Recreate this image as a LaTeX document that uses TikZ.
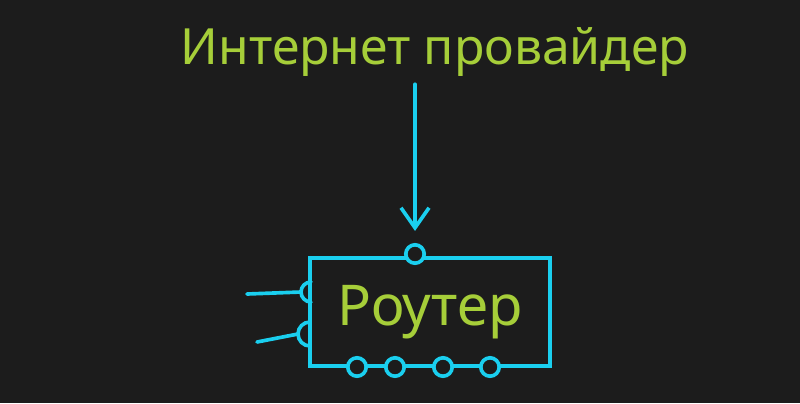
\documentclass[tikz,border=0pt]{standalone}
\usepackage{fontspec}
\setmainfont{Noto Sans}
\usetikzlibrary{arrows.meta,positioning}
\definecolor{bg}{HTML}{1C1C1C}
\definecolor{lime}{HTML}{A6CE39}
\definecolor{wirecol}{HTML}{1ACFEF}

\begin{document}
\begin{tikzpicture}[
    x=0.025cm, y=-0.025cm,
    handtext/.style={text=lime,inner sep=0pt,font=\fontsize{35.5}{40}\selectfont},
    box/.style={draw=wirecol,line width=2.6pt,minimum width=6cm,minimum height=2.7cm,inner sep=0pt},
    port/.style={draw=wirecol,line width=2.6pt,fill=bg,circle,minimum size=4.6mm,inner sep=0pt},
    wire/.style={draw=wirecol,line width=2.6pt,line cap=round},
    >={Straight Barb[length=5mm,width=7mm]}]
  \fill[bg] (0,0) rectangle (800,403);
  \useasboundingbox (0,0) rectangle (800,403);
  \node[handtext,anchor=base] (isp) at (435,64) {Интернет провайдер};
  \node[box,handtext,font=\fontsize{40}{44}\selectfont] (router) at (430,312) {Роутер};
  \node[port] (up) at (415,254) {};
  \foreach \x [count=\i] in {357,395,443,490}
    \node[port] (p\i) at (\x,367) {};
  \coordinate (l1) at (301,292);
  \coordinate (l2) at (298,334);
  \coordinate (w1) at (247,294);
  \coordinate (w2) at (257,342);
  \draw[wire] (l1) arc[start angle=180,end angle=90,radius=2.5mm]
              (l1) arc[start angle=180,end angle=270,radius=2.5mm];
  \draw[wire] (l2) arc[start angle=180,end angle=90,radius=3mm]
              (l2) arc[start angle=180,end angle=270,radius=3mm];
  \draw[wire] (w1) -- (l1);
  \draw[wire] (w2) -- (l2);
  \draw[wire,->,shorten <=2mm,shorten >=3mm] (isp.south -| up) -- (up.north);
\end{tikzpicture}
\end{document}
